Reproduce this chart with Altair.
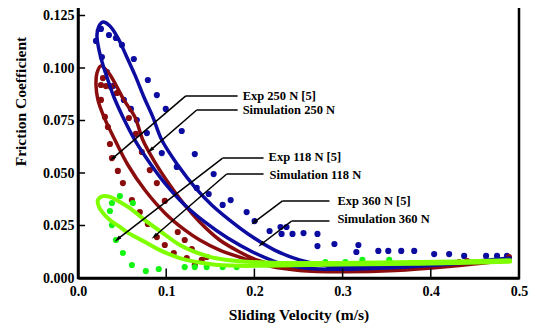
import altair as alt
import pandas as pd

# ---------------- data ----------------
# experimental points (Sliding velocity m/s, friction coefficient)
blue_exp_x = [0.0204, 0.0260, 0.0351, 0.0430, 0.0498, 0.0633, 0.0792, 0.0894, 0.0995, 0.1176,
              0.0271, 0.0328, 0.0396, 0.0520, 0.0600, 0.0667, 0.0781, 0.0950, 0.1324, 0.1120,
              0.1538, 0.1346, 0.1482, 0.1640, 0.1731, 0.1912, 0.2002, 0.2172, 0.2296, 0.2364,
              0.2308, 0.2432, 0.2557, 0.2715, 0.2715, 0.2907, 0.3179, 0.3156, 0.3405, 0.3518,
              0.3665, 0.3812, 0.4038, 0.4208, 0.4378, 0.4627, 0.4751, 0.4864]
blue_exp_y = [0.1129, 0.1186, 0.1157, 0.1143, 0.1110, 0.1043, 0.0943, 0.0871, 0.0805, 0.0700,
              0.1052, 0.0981, 0.0914, 0.0848, 0.0805, 0.0752, 0.0690, 0.0595, 0.0590, 0.0529,
              0.0495, 0.0429, 0.0400, 0.0348, 0.0371, 0.0314, 0.0271, 0.0224, 0.0243, 0.0243,
              0.0210, 0.0210, 0.0214, 0.0210, 0.0152, 0.0162, 0.0157, 0.0124, 0.0129, 0.0129,
              0.0129, 0.0129, 0.0114, 0.0114, 0.0105, 0.0105, 0.0105, 0.0105]

red_exp_x = [0.0283, 0.0260, 0.0317, 0.0373, 0.0441, 0.0260, 0.0305, 0.0339, 0.0362, 0.0385,
             0.0452, 0.0509, 0.0611, 0.0701, 0.0792, 0.0894, 0.0984, 0.1086, 0.0577, 0.0656,
             0.0724, 0.0814, 0.0894, 0.0984, 0.1131, 0.1210, 0.1290, 0.1233, 0.1324, 0.1403,
             0.1459, 0.3032, 0.3190, 0.3326, 0.3473, 0.3609, 0.3733, 0.3835, 0.3948, 0.4095,
             0.4208, 0.4321, 0.4412, 0.4887]
red_exp_y = [0.0952, 0.0919, 0.0914, 0.0910, 0.0881, 0.0848, 0.0767, 0.0719, 0.0638, 0.0571,
             0.0510, 0.0452, 0.0371, 0.0314, 0.0257, 0.0195, 0.0157, 0.0119, 0.0762, 0.0686,
             0.0600, 0.0514, 0.0452, 0.0367, 0.0219, 0.0181, 0.0138, 0.0095, 0.0062, 0.0086,
             0.0100, 0.0048, 0.0048, 0.0048, 0.0048, 0.0052, 0.0052, 0.0062, 0.0062, 0.0071,
             0.0071, 0.0076, 0.0081, 0.0100]

green_exp_x = [0.0475, 0.0622, 0.0385, 0.0362, 0.0385, 0.0430, 0.0509, 0.0611, 0.0769, 0.0916,
               0.1210, 0.1324, 0.1459, 0.1640, 0.1799, 0.2805, 0.3032, 0.3224, 0.3529]
green_exp_y = [0.0390, 0.0357, 0.0357, 0.0319, 0.0252, 0.0181, 0.0119, 0.0062, 0.0033, 0.0043,
               0.0052, 0.0052, 0.0052, 0.0052, 0.0052, 0.0076, 0.0076, 0.0086, 0.0086]

# simulated hysteresis loops (traced in drawing order)
blue_sim_x = [0.490, 0.450, 0.400, 0.319, 0.2851, 0.2511, 0.2229, 0.1980, 0.1719, 0.1516,
              0.1324, 0.1131, 0.0950, 0.0848, 0.0747, 0.0645, 0.0543, 0.0452, 0.0362, 0.0283,
              0.0238, 0.0215, 0.0238, 0.0283, 0.0339, 0.0407, 0.0509, 0.0645, 0.0814, 0.0984,
              0.1210, 0.1437, 0.1697, 0.1980, 0.2285, 0.2624, 0.310, 0.350, 0.400, 0.450, 0.490]
blue_sim_y = [0.0095, 0.0080, 0.0065, 0.0050, 0.0057, 0.0086, 0.0133, 0.0195, 0.0276, 0.0348,
              0.0433, 0.0538, 0.0657, 0.0767, 0.0862, 0.0967, 0.1062, 0.1143, 0.1200, 0.1219,
              0.1200, 0.1157, 0.1086, 0.1014, 0.0943, 0.0862, 0.0767, 0.0657, 0.0548, 0.0452,
              0.0348, 0.0267, 0.0190, 0.0124, 0.0071, 0.0045, 0.0042, 0.0048, 0.0060, 0.0075, 0.0090]

red_sim_x = [0.490, 0.420, 0.360, 0.3077, 0.2624, 0.2285, 0.2025, 0.1833, 0.1606, 0.1380,
             0.1210, 0.1041, 0.0871, 0.0735, 0.0645, 0.0520, 0.0430, 0.0339, 0.0260, 0.0215,
             0.0204, 0.0226, 0.0294, 0.0419, 0.0566, 0.0758, 0.0984, 0.1210, 0.1380, 0.1606,
             0.1867, 0.2172, 0.2511, 0.300, 0.360, 0.420, 0.490]
red_sim_y = [0.0090, 0.0060, 0.0040, 0.0033, 0.0038, 0.0057, 0.0086, 0.0124, 0.0181, 0.0267,
             0.0348, 0.0443, 0.0552, 0.0657, 0.0767, 0.0848, 0.0919, 0.0981, 0.1010, 0.0976,
             0.0919, 0.0848, 0.0767, 0.0657, 0.0538, 0.0419, 0.0310, 0.0229, 0.0181, 0.0133,
             0.0095, 0.0057, 0.0036, 0.0030, 0.0036, 0.0055, 0.0085]

green_sim_x = [0.490, 0.3869, 0.2964, 0.2285, 0.1833, 0.1550, 0.1324, 0.1154, 0.0962, 0.0758,
               0.0588, 0.0475, 0.0362, 0.0283, 0.0226, 0.0238, 0.0283, 0.0362, 0.0475, 0.0588,
               0.0781, 0.0928, 0.1154, 0.1493, 0.1833, 0.2285, 0.2964, 0.3869, 0.490]
green_sim_y = [0.0084, 0.0076, 0.0072, 0.0072, 0.0080, 0.0095, 0.0124, 0.0157, 0.0214, 0.0276,
               0.0333, 0.0362, 0.0386, 0.0390, 0.0371, 0.0338, 0.0310, 0.0276, 0.0243, 0.0210,
               0.0167, 0.0133, 0.0095, 0.0067, 0.0058, 0.0060, 0.0064, 0.0068, 0.0078]

# annotations
ann_text = ["Exp 250 N [5]", "Simulation 250 N", "Exp 118 N [5]", "Simulation 118 N",
            "Exp 360 N [5]", "Simulation 360 N"]
ann_text_x = [0.1867, 0.1867, 0.2161, 0.2172, 0.2941, 0.2941]
ann_text_y = [0.0867, 0.0800, 0.0576, 0.0490, 0.0367, 0.0281]
ann_elbow_x = [0.1222, 0.1346, 0.1640, 0.1686, 0.2319, 0.2421]
ann_elbow_y = [0.0867, 0.0800, 0.0571, 0.0495, 0.0367, 0.0271]
ann_end_x = [0.1810, 0.1810, 0.2104, 0.2104, 0.2851, 0.2851]
ann_tip_x = [0.0396, 0.0826, 0.0452, 0.0871, 0.2002, 0.2081]
ann_tip_y = [0.0571, 0.0610, 0.0186, 0.0200, 0.0267, 0.0162]

x_ticks = [0.0, 0.1, 0.2, 0.3, 0.4, 0.5]
y_ticks = [0.0, 0.025, 0.05, 0.075, 0.1, 0.125]
x_tick_len = 0.0045   # inward tick length, in y units
y_tick_len = 0.008    # inward tick length, in x units
x_range = [0, 0.5]
y_range = [0, 0.13]

BLUE = "#0c0ca0"
RED = "#8a0c0c"
GREEN_LINE = "#80ff00"
GREEN_DOT = "#14f514"
FONT = "Liberation Serif"

xs = alt.Scale(domain=x_range, nice=False, padding=0, zero=False)
ys = alt.Scale(domain=y_range, nice=False, padding=0, zero=False)

xaxis = alt.Axis(values=x_ticks, format=".1f", title="Sliding Velocity (m/s)", grid=False,
                 tickSize=0, labelPadding=6, titlePadding=9, labelFlush=False,
                 domain=True, domainColor="black", domainWidth=2.5,
                 labelFont=FONT, labelFontWeight="bold", labelFontSize=14, labelColor="black",
                 titleFont=FONT, titleFontWeight="bold", titleFontSize=15.5, titleColor="black")
yaxis = alt.Axis(values=y_ticks, format=".3f", title="Friction Coefficient", grid=False,
                 tickSize=0, labelPadding=4, labelFlush=False,
                 domain=True, domainColor="black", domainWidth=2.5,
                 labelFont=FONT, labelFontWeight="bold", labelFontSize=14, labelColor="black",
                 titleFont=FONT, titleFontWeight="bold", titleFontSize=15.5, titleColor="black",
                 titleX=-58, titleY=96, titleAlign="center", titleAngle=270,
                 titleBaseline="middle")


def pts(xv, yv, color):
    d = pd.DataFrame({"x": xv, "y": yv})
    return alt.Chart(d).mark_circle(size=38, opacity=1, color=color).encode(
        x=alt.X("x:Q", scale=xs, axis=xaxis), y=alt.Y("y:Q", scale=ys, axis=yaxis))


def loop(xv, yv, color, w):
    d = pd.DataFrame({"x": xv, "y": yv, "i": list(range(len(xv)))})
    return alt.Chart(d).mark_line(interpolate="catmull-rom", strokeWidth=w, color=color,
                                  strokeCap="round").encode(
        x=alt.X("x:Q", scale=xs), y=alt.Y("y:Q", scale=ys), order="i:Q")


ann = pd.DataFrame({"t": ann_text, "tx": ann_text_x, "ty": ann_text_y,
                    "ex": ann_elbow_x, "ey": ann_elbow_y, "endx": ann_end_x,
                    "px": ann_tip_x, "py": ann_tip_y})

hline = alt.Chart(ann).mark_rule(color="black", strokeWidth=1.5).encode(
    x=alt.X("ex:Q", scale=xs), x2="endx:Q", y=alt.Y("ey:Q", scale=ys))
dline = alt.Chart(ann).mark_rule(color="black", strokeWidth=1.5).encode(
    x=alt.X("ex:Q", scale=xs), x2="px:Q", y=alt.Y("ey:Q", scale=ys), y2="py:Q")
heads = alt.Chart(ann).mark_point(shape="M0,-1L0.45,0.7L-0.45,0.7Z", filled=True, size=70,
                                  angle=230, color="black", opacity=1).encode(
    x=alt.X("px:Q", scale=xs), y=alt.Y("py:Q", scale=ys))
labels = alt.Chart(ann).mark_text(align="left", baseline="middle", font=FONT,
                                  fontWeight="bold", fontSize=12.5, color="black").encode(
    x=alt.X("tx:Q", scale=xs), y=alt.Y("ty:Q", scale=ys), text="t:N")

xt = alt.Chart(pd.DataFrame({"v": x_ticks})).mark_rule(strokeWidth=1.5, color="black").encode(
    x=alt.X("v:Q", scale=xs), y=alt.datum(0), y2=alt.datum(x_tick_len))
yt = alt.Chart(pd.DataFrame({"v": y_ticks})).mark_rule(strokeWidth=1.5, color="black").encode(
    y=alt.Y("v:Q", scale=ys), x=alt.datum(0), x2=alt.datum(y_tick_len))

chart = alt.layer(
    pts(blue_exp_x, blue_exp_y, BLUE),
    pts(red_exp_x, red_exp_y, RED),
    pts(green_exp_x, green_exp_y, GREEN_DOT),
    loop(red_sim_x, red_sim_y, RED, 3.5),
    loop(blue_sim_x, blue_sim_y, BLUE, 3.5),
    loop(green_sim_x, green_sim_y, GREEN_LINE, 4),
    hline, dline, heads, labels, xt, yt,
).properties(
    width=441, height=273,
    autosize=alt.AutoSizeParams(type="none"),
    padding={"left": 70, "top": -3, "right": 10, "bottom": 48},
    background="white",
).configure_view(stroke="black", strokeWidth=2.5)

chart.save("out.html", embed_options={"renderer": "svg", "actions": False})
